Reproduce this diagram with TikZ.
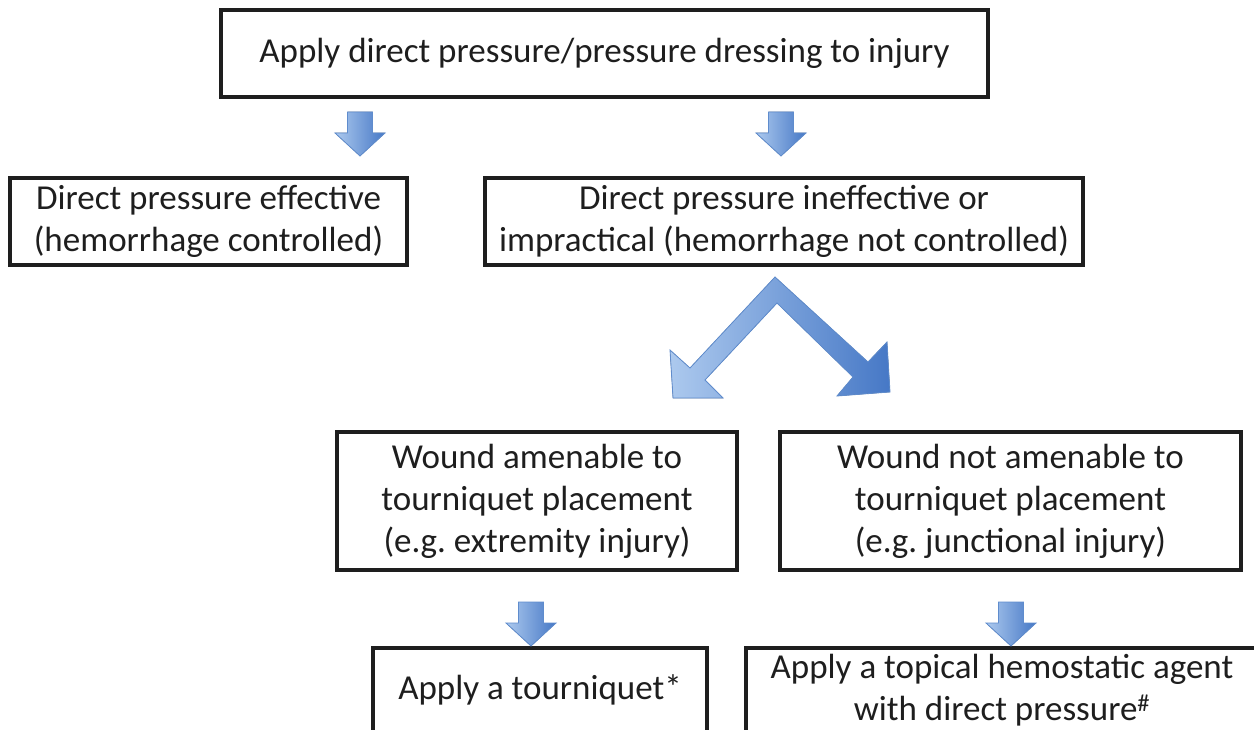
\documentclass[tikz,border=0pt]{standalone}
\usepackage{fontspec}
\setmainfont{Carlito}
\frenchspacing
\definecolor{arrL}{RGB}{172,201,238}
\definecolor{arrD}{RGB}{70,120,198}
\definecolor{arrE}{RGB}{95,140,205}
\definecolor{ink}{RGB}{30,30,30}
\tikzset{
  box/.style={draw=ink, line width=3.5pt, align=center, inner sep=0pt,
    font=\fontsize{35}{42}\selectfont, text=ink},
  blockarrow/.style={left color=arrL, right color=arrD, draw=arrE, line width=0.8pt, line join=miter},
  downblk/.pic={\filldraw[blockarrow] (-12.5,0) -- (12.5,0) -- (12.5,21) -- (25,21) -- (0,44) -- (-25,21) -- (-12.5,21) -- cycle;}
}
\begin{document}
\begin{tikzpicture}[x=1pt,y=-1pt]
\useasboundingbox (0,0) rectangle (1254,730);
\fill[white] (0,0) rectangle (1254,730);
\node[box, minimum width=767, minimum height=87] (top) at (604.5,53.5) {Apply direct pressure/pressure dressing to injury};
\node[box, minimum width=397, minimum height=87] (eff) at (208.5,221.5) {Direct pressure effective\\(hemorrhage controlled)};
\node[box, minimum width=598, minimum height=87] (ineff) at (784,221.5) {Direct pressure ineffective or\\impractical (hemorrhage not controlled)};
\node[box, minimum width=400, minimum height=138] (amen) at (537,501) {Wound amenable to\\tourniquet placement\\(e.g. extremity injury)};
\node[box, minimum width=461, minimum height=138] (notamen) at (1010.5,501) {Wound not amenable to\\tourniquet placement\\(e.g. junctional injury)};
\node[box, minimum width=334, minimum height=84] (tq) at (540,690) {Apply a tourniquet*};
\node[box, minimum width=512, minimum height=84] (topical) at (1002,690) {Apply a topical hemostatic agent\\with direct pressure\textsuperscript{\#}};
% block arrows
\pic at (360,112) {downblk};
\pic at (781,112) {downblk};
\pic at (531,602) {downblk};
\pic at (1011,602) {downblk};
\filldraw[blockarrow] (775,277) -- (868,362) -- (887,342) -- (890,392) -- (837,396) -- (853,377) -- (777,303) -- (705,380) -- (723,398) -- (673,398) -- (670,350) -- (690,368) -- cycle;
\end{tikzpicture}
\end{document}
